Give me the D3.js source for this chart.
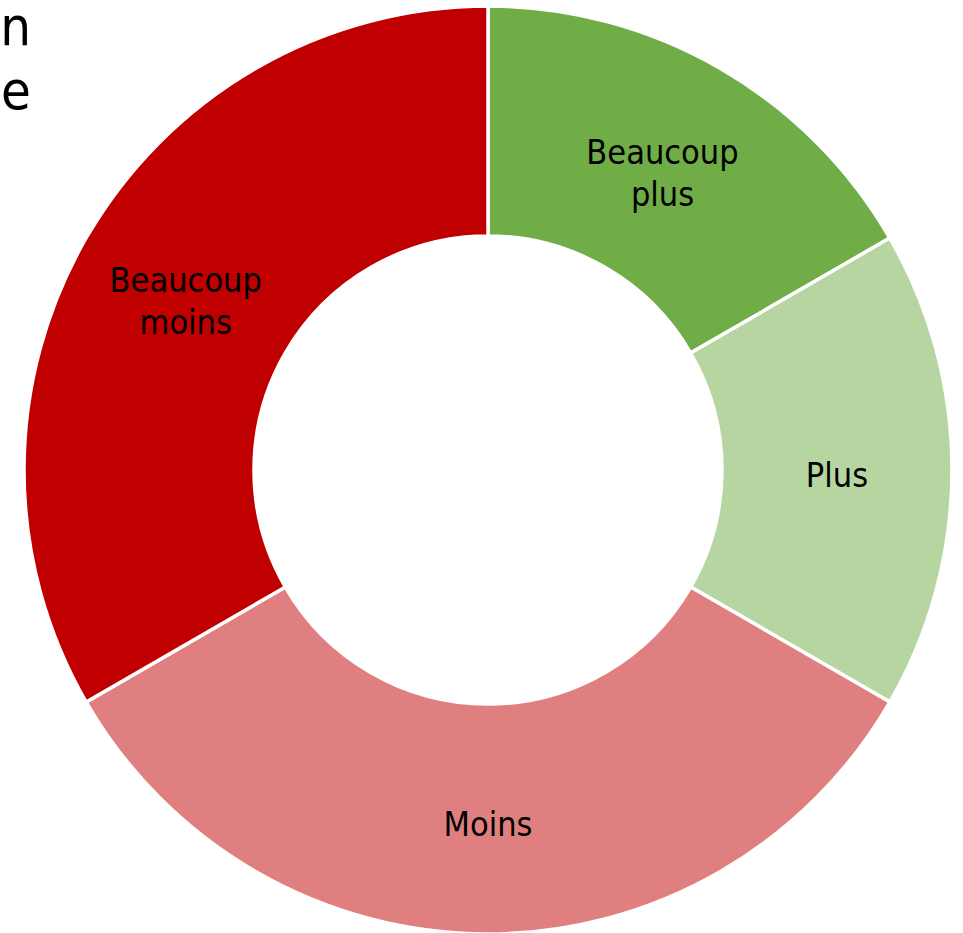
<!DOCTYPE html>
<html>
<head>
<meta charset="utf-8">
<script src="https://cdn.jsdelivr.net/npm/d3@7"></script>
<style>
  body { margin: 0; background: #fff; }
  svg { display: block; }
</style>
</head>
<body>
<svg id="chart"></svg>
<script>
// categories and values (shares)
var categories = ["Beaucoup plus", "Plus", "Moins", "Beaucoup moins"];
var values = [1, 1, 2, 2];
var colors = ["#70ad47", "#b6d5a0", "#e07f7f", "#c00000"];
var labelLines = [["Beaucoup", "plus"], ["Plus"], ["Moins"], ["Beaucoup", "moins"]];
// title, clipped at the left edge in the original
var titleLines = ["Évolution", "de la ligne"];

var width = 963, height = 933;
var cx = 488, cy = 470;
var outerR = 464, innerR = 234;
var font = "DejaVu Sans Condensed, Tahoma, sans-serif";

var svg = d3.select("#chart")
    .attr("width", width)
    .attr("height", height);

// title (only the last letters show)
svg.append("g")
  .selectAll("text")
  .data(titleLines)
  .enter().append("text")
    .attr("x", 31)
    .attr("y", function(d, i) { return 45 + i * 64; })
    .attr("text-anchor", "end")
    .style("font-family", font)
    .style("font-size", "54px")
    .style("fill", "#000")
    .text(function(d) { return d; });

var data = categories.map(function(c, i) { return {name: c, value: values[i], i: i}; });

var pie = d3.pie()
    .value(function(d) { return d.value; })
    .sort(null);

var arc = d3.arc()
    .innerRadius(innerR)
    .outerRadius(outerR);

var g = svg.append("g")
    .attr("transform", "translate(" + cx + "," + cy + ")");

var arcs = pie(data);

g.selectAll("path")
  .data(arcs)
  .enter().append("path")
    .attr("d", arc)
    .style("fill", function(d) { return colors[d.data.i]; })
    .style("stroke", "#fff")
    .style("stroke-width", 3.5);

var fs = 34, lh = 42;
var labels = g.selectAll("text.lbl")
  .data(arcs)
  .enter().append("text")
    .attr("class", "lbl")
    .attr("transform", function(d) { return "translate(" + arc.centroid(d) + ")"; })
    .attr("text-anchor", "middle")
    .style("font-family", font)
    .style("font-size", fs + "px")
    .style("fill", "#000");

labels.each(function(d) {
  var lines = labelLines[d.data.i];
  var t = d3.select(this);
  lines.forEach(function(l, j) {
    t.append("tspan")
      .attr("x", 0)
      .attr("y", (j - (lines.length - 1) / 2) * lh + 17)
      .text(l);
  });
});
</script>
</body>
</html>
